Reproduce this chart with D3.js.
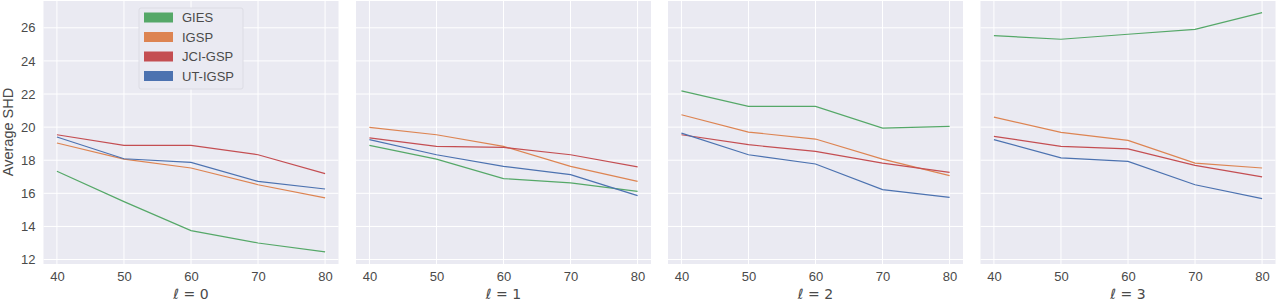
<!DOCTYPE html>
<html>
<head>
<meta charset="utf-8">
<script src="https://cdn.jsdelivr.net/npm/d3@7"></script>
<style>
  body { margin: 0; background: #fff; }
  svg { display: block; font-family: 'Liberation Sans', Arial, sans-serif; }
</style>
</head>
<body>
<div id="chart"></div>
<script>
let xValues = [40, 50, 60, 70, 80]
let yTicks = [12, 14, 16, 18, 20, 22, 24, 26]
let methods = ['GIES', 'IGSP', 'JCI-GSP', 'UT-IGSP']
let colors = ['#55a868', '#dd8452', '#c44e52', '#4c72b0']
let panelTitles = ['ℓ = 0', 'ℓ = 1', 'ℓ = 2', 'ℓ = 3']

// average SHD per panel, one list per method (GIES, IGSP, JCI-GSP, UT-IGSP)
let panel0 = [
  [17.33, 15.5, 13.75, 13.0, 12.46],
  [19.04, 18.07, 17.53, 16.52, 15.72],
  [19.54, 18.9, 18.9, 18.33, 17.19],
  [19.4, 18.09, 17.87, 16.72, 16.26]
]
let panel1 = [
  [18.9, 18.07, 16.89, 16.63, 16.12],
  [19.98, 19.54, 18.84, 17.63, 16.72],
  [19.35, 18.84, 18.78, 18.33, 17.6],
  [19.24, 18.33, 17.63, 17.13, 15.86]
]
let panel2 = [
  [22.19, 21.25, 21.25, 19.94, 20.04],
  [20.75, 19.7, 19.28, 18.07, 17.07],
  [19.54, 18.94, 18.53, 17.83, 17.27],
  [19.64, 18.33, 17.77, 16.22, 15.76]
]
let panel3 = [
  [25.53, 25.31, 25.61, 25.91, 26.92],
  [20.6, 19.68, 19.2, 17.83, 17.53],
  [19.44, 18.84, 18.68, 17.69, 16.99],
  [19.24, 18.14, 17.93, 16.52, 15.68]
]
let panels = [panel0, panel1, panel2, panel3]

let width = 1276
let height = 302
let panelLefts = [43.5, 356, 668, 980.5]
let panelWidth = 295
let plotTop = 1
let plotBottom = 264
let textColor = '#4a4a4a'

let svg = d3.select('#chart')
  .append('svg')
  .attr('width', width)
  .attr('height', height)

let x = d3.scaleLinear().domain([38, 82]).range([0, panelWidth])
let y = d3.scaleLinear().domain([11.73, 27.62]).range([plotBottom, plotTop])

let line = d3.line()
  .x((d, i) => x(xValues[i]))
  .y(d => y(d))

panels.forEach((panel, p) => {
  let g = svg.append('g')
    .attr('transform', `translate(${panelLefts[p]},0)`)

  g.append('rect')
    .attr('x', 0)
    .attr('y', plotTop)
    .attr('width', panelWidth)
    .attr('height', plotBottom - plotTop)
    .attr('fill', '#eaeaf2')

  // grid
  g.selectAll('.vgrid')
    .data(xValues)
    .enter()
    .append('line')
    .attr('x1', d => x(d))
    .attr('x2', d => x(d))
    .attr('y1', plotTop)
    .attr('y2', plotBottom)
    .attr('stroke', '#fff')
    .attr('stroke-width', 1)

  g.selectAll('.hgrid')
    .data(yTicks)
    .enter()
    .append('line')
    .attr('x1', 0)
    .attr('x2', panelWidth)
    .attr('y1', d => y(d))
    .attr('y2', d => y(d))
    .attr('stroke', '#fff')
    .attr('stroke-width', 1)

  // x axis
  let xAxis = g.append('g')
    .attr('transform', `translate(0,${plotBottom})`)
    .call(d3.axisBottom(x).tickValues(xValues).tickSize(0).tickPadding(8))
  xAxis.select('.domain').remove()
  xAxis.selectAll('text')
    .attr('font-size', 13)
    .attr('fill', textColor)
    .attr('font-family', "'Liberation Sans', Arial, sans-serif")

  if (p === 0) {
    let yAxis = g.append('g')
      .call(d3.axisLeft(y).tickValues(yTicks).tickSize(0).tickPadding(8))
    yAxis.select('.domain').remove()
    yAxis.selectAll('text')
      .attr('font-size', 13)
      .attr('fill', textColor)
      .attr('font-family', "'Liberation Sans', Arial, sans-serif")
  }

  g.append('text')
    .attr('x', panelWidth / 2)
    .attr('y', 299)
    .attr('text-anchor', 'middle')
    .attr('font-size', 14)
    .attr('fill', textColor)
    .attr('font-family', "'DejaVu Sans', sans-serif")
    .text(panelTitles[p])

  g.selectAll('.series')
    .data(panel)
    .enter()
    .append('path')
    .attr('class', 'series')
    .attr('d', line)
    .attr('fill', 'none')
    .attr('stroke', (d, i) => colors[i])
    .attr('stroke-width', 1.2)
})

// y label
svg.append('text')
  .attr('transform', `translate(13,132) rotate(-90)`)
  .attr('text-anchor', 'middle')
  .attr('font-size', 14.5)
  .attr('fill', textColor)
  .text('Average SHD')

// legend
let legend = svg.append('g')
  .attr('transform', 'translate(139,8)')

legend.append('rect')
  .attr('width', 104)
  .attr('height', 81)
  .attr('rx', 2)
  .attr('fill', '#eaeaf2')
  .attr('stroke', '#dcdce4')
  .attr('stroke-width', 1)

let items = legend.selectAll('.item')
  .data(methods)
  .enter()
  .append('g')
  .attr('transform', (d, i) => `translate(5,${9.5 + i * 19.5})`)

items.append('rect')
  .attr('x', 0)
  .attr('y', -5)
  .attr('width', 29)
  .attr('height', 10)
  .attr('fill', (d, i) => colors[i])

items.append('text')
  .attr('x', 38)
  .attr('y', 0)
  .attr('dy', '0.35em')
  .attr('font-size', 13)
  .attr('fill', textColor)
  .text(d => d)
</script>
</body>
</html>
